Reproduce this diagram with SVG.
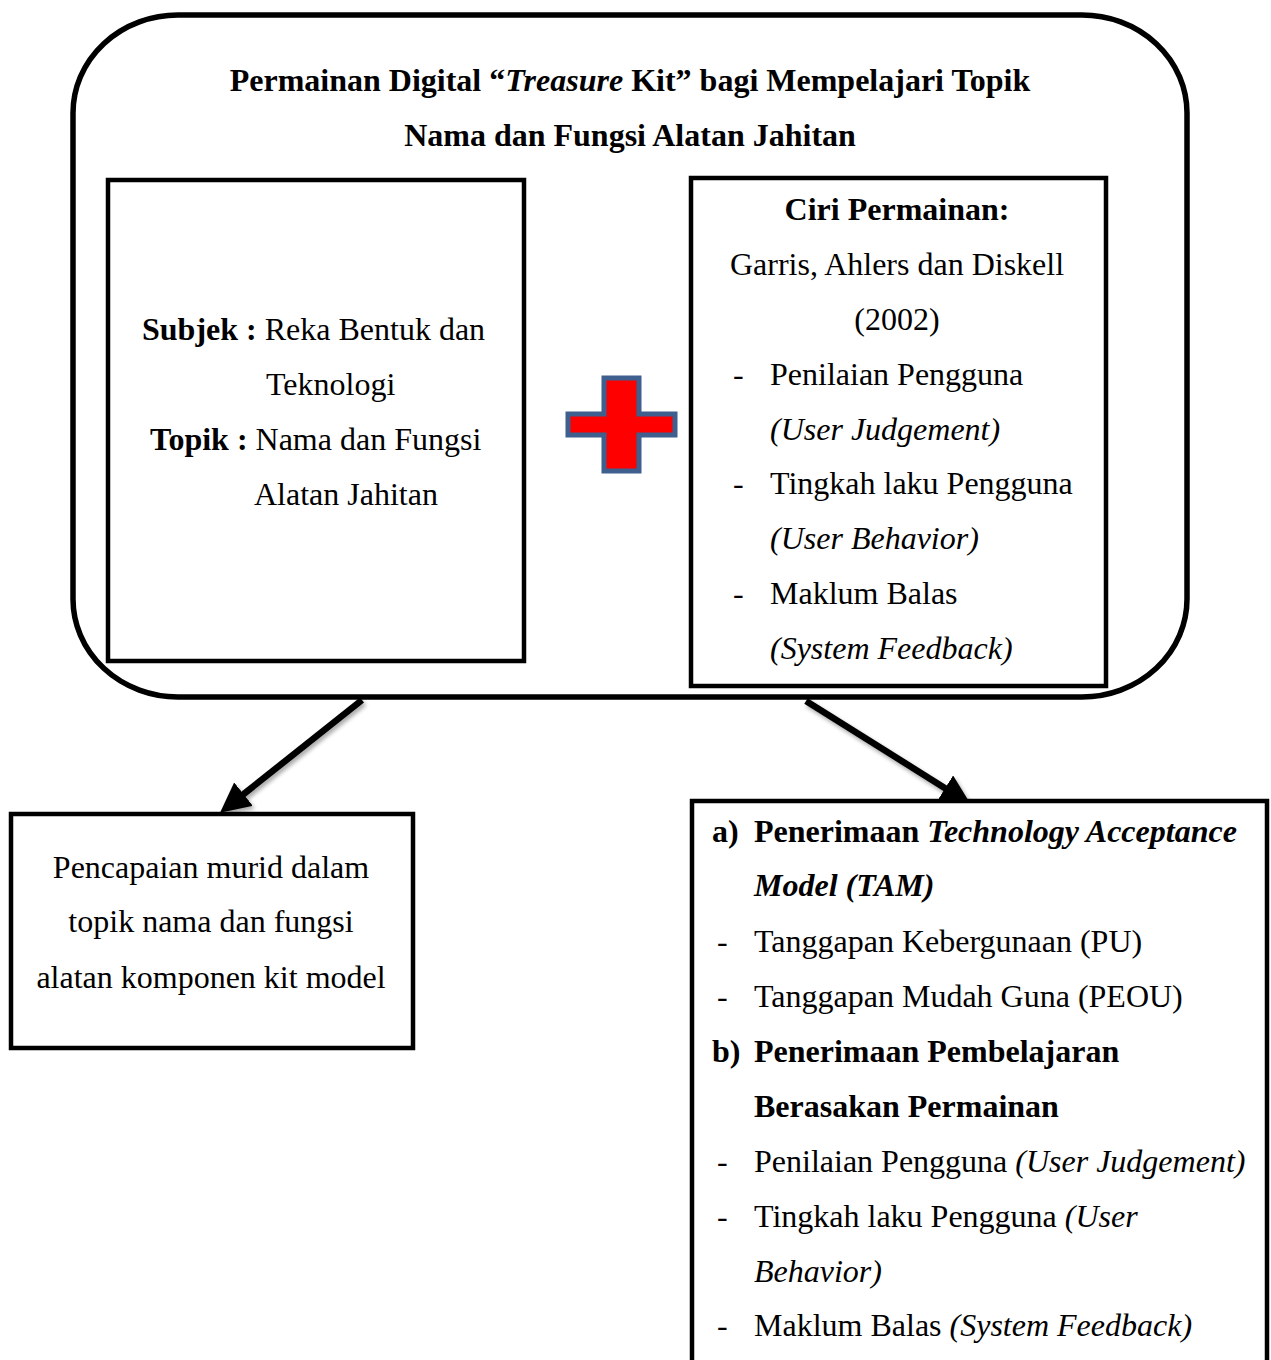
<svg xmlns="http://www.w3.org/2000/svg" width="1271" height="1360" viewBox="0 0 1271 1360">
<style>
text{font-family:"Liberation Serif","Times New Roman",serif;font-size:32px;fill:#000}
.b{font-weight:bold}
.i{font-style:italic}
.c{text-anchor:middle}
.box{fill:#fff;stroke:#000;stroke-width:4.5}
.outer{fill:#fff;stroke:#000;stroke-width:5.5}
.conn{fill:none;stroke:#000;stroke-width:6.5}
</style>
<defs>
<marker id="ah" markerUnits="userSpaceOnUse" markerWidth="30" markerHeight="30" refX="2" refY="13" orient="auto" viewBox="0 0 26 26">
<path d="M0,0 L26,13 L0,26 z" fill="#000"/>
</marker>
<filter id="sh" x="-20%" y="-20%" width="140%" height="140%">
<feGaussianBlur in="SourceAlpha" stdDeviation="2"/>
<feOffset dx="2" dy="3" result="o"/>
<feComponentTransfer><feFuncA type="linear" slope="0.35"/></feComponentTransfer>
<feMerge><feMergeNode/><feMergeNode in="SourceGraphic"/></feMerge>
</filter>
</defs>
<g id="main-game">
<rect class="outer" x="73" y="15" width="1114" height="682" rx="105" ry="98"/>
<text class="b c" x="630" y="91">Permainan Digital “<tspan class="i">Treasure</tspan> Kit” bagi Mempelajari Topik</text>
<text class="b c" x="630" y="146">Nama dan Fungsi Alatan Jahitan</text>
</g>
<g id="subject-box">
<rect class="box" x="108" y="180" width="416" height="481"/>
<text x="142" y="340"><tspan class="b">Subjek :</tspan> Reka Bentuk dan</text>
<text x="266" y="395">Teknologi</text>
<text x="150" y="450"><tspan class="b">Topik :</tspan> Nama dan Fungsi</text>
<text x="254" y="505">Alatan Jahitan</text>
</g>
<g id="plus">
<polygon points="604,378 639,378 639,414 675,414 675,435 639,435 639,471 604,471 604,435 568,435 568,414 604,414" fill="#ff0000" stroke="#3f5f8f" stroke-width="5"/>
</g>
<g id="game-features-box">
<rect class="box" x="691" y="178" width="415" height="508"/>
<text class="b c" x="897" y="220">Ciri Permainan:</text>
<text class="c" x="897" y="275">Garris, Ahlers dan Diskell</text>
<text class="c" x="897" y="330">(2002)</text>
<text x="733" y="385">-</text><text x="770" y="385">Penilaian Pengguna</text>
<text class="i" x="770" y="440">(User Judgement)</text>
<text x="733" y="494">-</text><text x="770" y="494">Tingkah laku Pengguna</text>
<text class="i" x="770" y="549">(User Behavior)</text>
<text x="733" y="604">-</text><text x="770" y="604">Maklum Balas</text>
<text class="i" x="770" y="659">(System Feedback)</text>
</g>
<g id="connectors" filter="url(#sh)">
<line class="conn" x1="362" y1="700" x2="241.7" y2="795.6" marker-end="url(#ah)"/>
<line class="conn" x1="806" y1="701" x2="947.1" y2="789.4" marker-end="url(#ah)"/>
</g>
<g id="achievement-box">
<rect class="box" x="11" y="814" width="402" height="234"/>
<text class="c" x="211" y="878">Pencapaian murid dalam</text>
<text class="c" x="211" y="932">topik nama dan fungsi</text>
<text class="c" x="211" y="988">alatan komponen kit model</text>
</g>
<g id="acceptance-box">
<rect class="box" x="692" y="801" width="575" height="620"/>
<text class="b" x="712" y="842">a)</text><text class="b" x="754" y="842">Penerimaan <tspan class="i">Technology Acceptance</tspan></text>
<text class="b i" x="754" y="896">Model (TAM)</text>
<text x="717" y="952">-</text><text x="754" y="952">Tanggapan Kebergunaan (PU)</text>
<text x="717" y="1007">-</text><text x="754" y="1007">Tanggapan Mudah Guna (PEOU)</text>
<text class="b" x="712" y="1062">b)</text><text class="b" x="754" y="1062">Penerimaan Pembelajaran</text>
<text class="b" x="754" y="1117">Berasakan Permainan</text>
<text x="717" y="1172">-</text><text x="754" y="1172">Penilaian Pengguna <tspan class="i">(User Judgement)</tspan></text>
<text x="717" y="1227">-</text><text x="754" y="1227">Tingkah laku Pengguna <tspan class="i">(User</tspan></text>
<text class="i" x="754" y="1282">Behavior)</text>
<text x="717" y="1336">-</text><text x="754" y="1336">Maklum Balas <tspan class="i">(System Feedback)</tspan></text>
</g>
</svg>
